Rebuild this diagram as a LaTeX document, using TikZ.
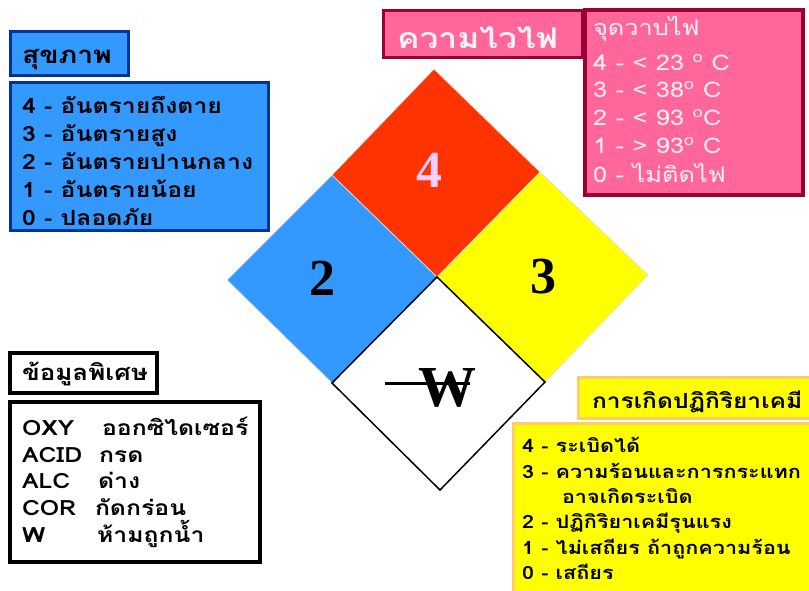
\documentclass[tikz,border=0pt]{standalone}
\usepackage{fontspec}
\setmainfont[Script=Thai, FakeStretch=1.18]{Loma}
\newfontfamily\serifnum{Liberation Serif}
\definecolor{bluefill}{HTML}{3399FF}
\definecolor{blueedge}{HTML}{003399}
\definecolor{pinkfill}{HTML}{FF6699}
\definecolor{pinkedge}{HTML}{990033}
\definecolor{pinktext}{HTML}{FFF0F6}
\definecolor{yellfill}{HTML}{FFFF00}
\definecolor{yelledge}{HTML}{FFCC66}
\definecolor{redfill}{HTML}{FF3300}
\definecolor{fourcol}{HTML}{FFCCFF}
\definecolor{seam}{HTML}{E0E0D0}
\tikzset{
  panel/.style={draw, line width=3pt, inner sep=0pt, outer sep=0pt},
  bluepanel/.style={panel, fill=bluefill, draw=blueedge},
  pinkpanel/.style={panel, fill=pinkfill, draw=pinkedge},
  yellpanel/.style={panel, fill=yellfill, draw=yelledge},
  blackpanel/.style={panel, fill=white, draw=black, line width=3.5pt},
  txt/.style={anchor=base west, inner sep=0pt, outer sep=0pt},
  bluetxt/.style={txt, font=\bfseries\fontsize{21}{21}\selectfont},
  pinktxt/.style={txt, text=pinktext, font=\fontsize{21.5}{21.5}\selectfont},
  yelltxt/.style={txt, font=\bfseries\fontsize{18.3}{18.3}\selectfont},
  blacktxt/.style={txt, font=\bfseries\fontsize{21}{21}\selectfont},
  bignum/.style={inner sep=0pt, font=\serifnum\bfseries\fontsize{52}{52}\selectfont},
}
\begin{document}
\begin{tikzpicture}[x=1pt,y=-1pt]
\useasboundingbox (0,0) rectangle (809,590);
% diamond
\coordinate (T) at (434,69);
\coordinate (R) at (648,275);
\coordinate (B) at (440,490);
\coordinate (L) at (227,280);
\coordinate (O) at (437,277);
\coordinate (TL) at (332,175);
\coordinate (TR) at (540,172);
\coordinate (BR) at (545,382);
\coordinate (BL) at (332,383);
\fill[redfill] (T) -- (TR) -- (O) -- (TL) -- cycle;
\fill[bluefill] (TL) -- (O) -- (BL) -- (L) -- cycle;
\fill[yellfill] (TR) -- (R) -- (BR) -- (O) -- cycle;
\draw[seam, line width=0.8pt] (TL) -- (T) -- (TR) -- (R) -- (BR);
\draw[seam, line width=0.8pt] (TL) -- (L) -- (BL);
\draw[seam, line width=0.8pt] (TL) -- (O) -- (TR);
\filldraw[fill=white, draw=black, line width=1.5pt] (O) -- (BR) -- (B) -- (BL) -- cycle;
\node[bignum, text=fourcol] (n4) at (429,170) {4};
\node[bignum] (n2) at (322,278) {2};
\node[bignum] (n3) at (543,277) {3};
\node[inner sep=0pt, font=\serifnum\bfseries\fontsize{58}{58}\selectfont] (nw) at (447,388) {W};
\coordinate (s1) at (385,383);
\coordinate (s2) at (470,383);
\draw[line width=3pt] (s1) -- (s2);

% health (blue)
\node[bluepanel, minimum width=118pt, minimum height=44pt] (hbox) at (69,53) {};
\node[txt, font=\bfseries\fontsize{24}{24}\selectfont] (htitle) at (22,63) {สุขภาพ};
\node[bluepanel, minimum width=258pt, minimum height=148pt] (hlist) at (139,156) {};
\node[bluetxt] (h4) at (22,113) {4 - อันตรายถึงตาย};
\node[bluetxt] (h3) at (22,141) {3 - อันตรายสูง};
\node[bluetxt] (h2) at (22,169) {2 - อันตรายปานกลาง};
\node[bluetxt] (h1) at (22,197) {1 - อันตรายน้อย};
\node[bluetxt] (h0) at (22,225) {0 - ปลอดภัย};

% flammability (pink)
\node[pinkpanel, minimum width=199pt, minimum height=47pt] (fbox) at (482.5,33.5) {};
\node[txt, text=pinktext, font=\bfseries\fontsize{28.5}{28.5}\selectfont] (ftitle) at (397,48) {ความไวไฟ};
\node[pinkpanel, minimum width=218pt, minimum height=185pt, line width=3.5pt] (flist) at (694,102.5) {};
\node[pinktxt] (fhead) at (593,35) {จุดวาบไฟ};
\node[pinktxt] (f4) at (593,70) {4 - < 23 \textsuperscript{o} C};
\node[pinktxt] (f3) at (593,97) {3 - < 38\textsuperscript{o} C};
\node[pinktxt] (f2) at (593,125) {2 - < 93 \textsuperscript{o}C};
\node[pinktxt] (f1) at (593,153) {1 - > 93\textsuperscript{o} C};
\node[pinktxt] (f0) at (593,182) {0 - ไม่ติดไฟ};

% special (black)
\node[blackpanel, minimum width=147pt, minimum height=40pt] (sbox) at (83.5,373) {};
\node[txt, font=\bfseries\fontsize{22}{22}\selectfont] (stitle) at (22,380) {ข้อมูลพิเศษ};
\node[blackpanel, minimum width=250pt, minimum height=160pt] (slist) at (135,482) {};
\node[blacktxt] (s1a) at (22,435) {OXY};
\node[blacktxt] (s1b) at (102,435) {ออกซิไดเซอร์};
\node[blacktxt] (s2a) at (22,462) {ACID};
\node[blacktxt] (s2b) at (99,462) {กรด};
\node[blacktxt] (s3a) at (22,488) {ALC};
\node[blacktxt] (s3b) at (98,488) {ด่าง};
\node[blacktxt] (s4a) at (22,515) {COR};
\node[blacktxt] (s4b) at (95,515) {กัดกร่อน};
\node[blacktxt] (s5a) at (22,542) {W};
\node[blacktxt] (s5b) at (97,542) {ห้ามถูกน้ำ};

% reactivity (yellow)
\node[yellpanel, minimum width=232pt, minimum height=41pt] (rbox) at (694,397.5) {};
\node[txt, font=\bfseries\fontsize{20.8}{20.8}\selectfont] (rtitle) at (592,408) {การเกิดปฏิกิริยาเคมี};
\node[yellpanel, minimum width=300pt, minimum height=190pt] (rlist) at (663,518) {};
\node[yelltxt] (r4) at (522,452) {4 - ระเบิดได้};
\node[yelltxt] (r3) at (522,478) {3 - ความร้อนและการกระแทก};
\node[yelltxt] (r3b) at (562,503) {อาจเกิดระเบิด};
\node[yelltxt] (r2) at (522,528) {2 - ปฏิกิริยาเคมีรุนแรง};
\node[yelltxt] (r1) at (522,554) {1 - ไม่เสถียร ถ้าถูกความร้อน};
\node[yelltxt] (r0) at (522,579) {0 - เสถียร};
\end{tikzpicture}
\end{document}
